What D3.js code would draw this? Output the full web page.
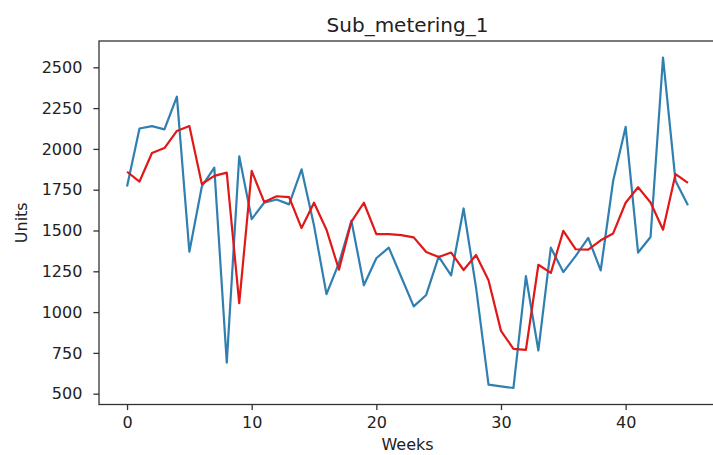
<!DOCTYPE html>
<html>
<head>
<meta charset="utf-8">
<script src="https://cdn.jsdelivr.net/npm/d3@7"></script>
<style>
  body { margin: 0; background: #fff; }
  text { font-family: "DejaVu Sans", sans-serif; fill: #222; }
</style>
</head>
<body>
<svg id="chart"></svg>
<script>
// weekly totals (blue) and smoothed series (red)
const weeks = d3.range(0, 46);
const subMetering = [1770, 2125, 2140, 2120, 2320, 1370, 1770, 1885, 690, 1955,
  1570, 1670, 1690, 1660, 1875, 1530, 1110, 1300, 1560, 1165,
  1330, 1395, 1215, 1035, 1105, 1340, 1225, 1635, 1150, 555,
  545, 535, 1220, 765, 1395, 1245, 1345, 1455, 1255, 1805,
  2135, 1365, 1460, 2560, 1805, 1655];
const smoothed = [1860, 1800, 1975, 2005, 2110, 2140, 1785, 1835, 1855, 1055,
  1865, 1675, 1710, 1705, 1515, 1670, 1505, 1260, 1555, 1670,
  1478, 1478, 1472, 1458, 1368, 1338, 1365, 1258, 1350, 1195,
  885, 775, 768, 1290, 1240, 1498, 1385, 1383, 1440, 1482,
  1670, 1765, 1672, 1505, 1845, 1792];
const xTicks = [0, 10, 20, 30, 40];
const yTicks = [500, 750, 1000, 1250, 1500, 1750, 2000, 2250, 2500];

const W = 713, H = 455;
const svg = d3.select("#chart").attr("width", W).attr("height", H);

const m = {left: 99, right: 716, top: 41, bottom: 404.5};

// matplotlib-like 5% margins
const xPad = (d3.max(weeks) - d3.min(weeks)) * 0.05;
const allVals = subMetering.concat(smoothed);
const yMin = d3.min(allVals), yMax = d3.max(allVals);
const yPad = (yMax - yMin) * 0.05;

const x = d3.scaleLinear()
  .domain([d3.min(weeks) - xPad, d3.max(weeks) + xPad])
  .range([m.left, m.right]);
const y = d3.scaleLinear()
  .domain([yMin - yPad, yMax + yPad])
  .range([m.bottom, m.top]);

const line = d3.line()
  .x((d, i) => x(weeks[i]))
  .y(d => y(d));

svg.append("path")
  .datum(subMetering)
  .attr("fill", "none")
  .attr("stroke", "#2f7fb0")
  .attr("stroke-width", 2.2)
  .attr("stroke-linejoin", "round")
  .attr("d", line);

svg.append("path")
  .datum(smoothed)
  .attr("fill", "none")
  .attr("stroke", "#e01818")
  .attr("stroke-width", 2.2)
  .attr("stroke-linejoin", "round")
  .attr("d", line);

// frame
svg.append("rect")
  .attr("x", m.left).attr("y", m.top)
  .attr("width", m.right - m.left).attr("height", m.bottom - m.top)
  .attr("fill", "none")
  .attr("stroke", "#333")
  .attr("stroke-width", 1.3);

const xAxis = svg.append("g")
  .attr("transform", `translate(0,${m.bottom})`)
  .call(d3.axisBottom(x).tickValues(xTicks).tickSize(5.6).tickPadding(7).tickFormat(d3.format("d")));
const yAxis = svg.append("g")
  .attr("transform", `translate(${m.left},0)`)
  .call(d3.axisLeft(y).tickValues(yTicks).tickSize(5.6).tickPadding(11).tickFormat(d3.format("d")));

[xAxis, yAxis].forEach(a => {
  a.select(".domain").remove();
  a.selectAll(".tick line").attr("stroke", "#333").attr("stroke-width", 1.3);
  a.selectAll(".tick text")
    .style("font-family", "DejaVu Sans, sans-serif")
    .style("font-size", "16px")
    .attr("fill", "#222");
});

svg.append("text")
  .attr("x", (m.left + m.right) / 2).attr("y", 32)
  .attr("text-anchor", "middle")
  .style("font-size", "20px")
  .text("Sub_metering_1");

svg.append("text")
  .attr("x", 407.5).attr("y", 450)
  .attr("text-anchor", "middle")
  .style("font-size", "16px")
  .text("Weeks");

svg.append("text")
  .attr("transform", `translate(27,${(m.top + m.bottom) / 2}) rotate(-90)`)
  .attr("text-anchor", "middle")
  .style("font-size", "16px")
  .text("Units");
</script>
</body>
</html>
